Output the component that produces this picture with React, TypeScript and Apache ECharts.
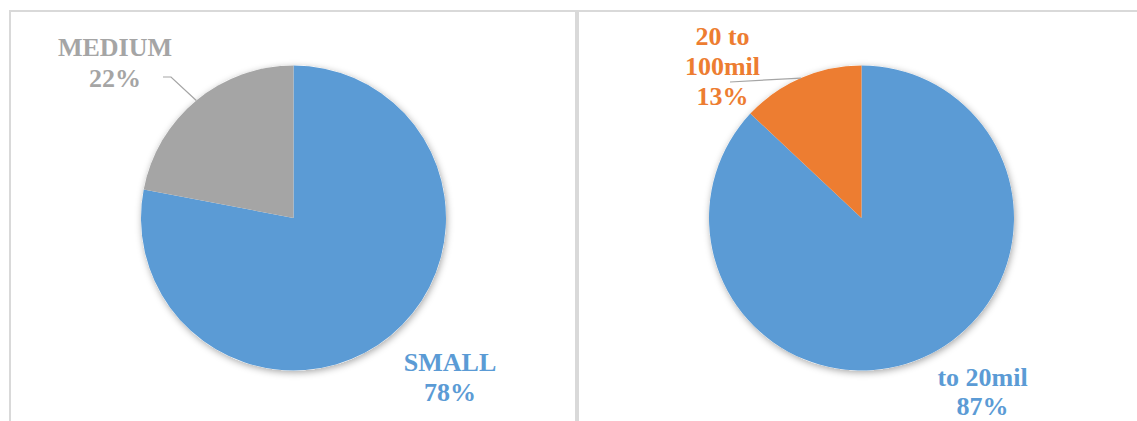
import React, { useEffect, useRef } from "react";
import * as echarts from "echarts";

// Company size shares (left) and turnover bands (right)
const sizeCategories = ["SMALL", "MEDIUM"];
const sizeValues = [78, 22];
const sizeColors = ["#5B9BD5", "#A5A5A5"];

const turnoverCategories = ["to 20mil", "20 to\n100mil"];
const turnoverValues = [87, 13];
const turnoverColors = ["#5B9BD5", "#ED7D31"];

const RADIUS = 152.5;
const LEFT_CENTER: [number, number] = [293.5, 218];
const RIGHT_CENTER: [number, number] = [861.5, 218];

// Where each slice's label block is centred
const sizeLabelPos: [number, number][] = [
  [450, 377],
  [115, 62.5],
];
const turnoverLabelPos: [number, number][] = [
  [982.5, 391.5],
  [722.5, 66],
];

const FONT = "'Liberation Serif', 'Times New Roman', serif";

// Point on the rim at the middle of slice idx (clockwise from 12 o'clock)
function rimMidPoint(center: [number, number], r: number, values: number[], idx: number): [number, number] {
  const total = values.reduce((a, b) => a + b, 0);
  let before = 0;
  for (let i = 0; i < idx; i++) before += values[i];
  const frac = (before + values[idx] / 2) / total;
  const ang = frac * Math.PI * 2;
  return [center[0] + r * Math.sin(ang), center[1] - r * Math.cos(ang)];
}

function sliceLabels(
  names: string[],
  values: number[],
  colors: string[],
  positions: [number, number][],
  lineHeights: number[]
) {
  const total = values.reduce((a, b) => a + b, 0);
  return names.map((n, i) => ({
    type: "text",
    z: 10,
    x: positions[i][0],
    y: positions[i][1],
    style: {
      text: `${n}\n${Math.round((values[i] / total) * 100)}%`,
      fill: colors[i],
      font: `bold 26px ${FONT}`,
      align: "center",
      verticalAlign: "middle",
      lineHeight: lineHeights[i],
    },
  }));
}

function makePie(center: [number, number], names: string[], values: number[], colors: string[]) {
  return {
    type: "pie",
    center,
    radius: RADIUS,
    startAngle: 90,
    clockwise: true,
    z: 2,
    data: names.map((n, i) => ({
      name: n,
      value: values[i],
      itemStyle: { color: colors[i] },
    })),
    label: { show: false },
    labelLine: { show: false },
    emphasis: { disabled: true },
  };
}

function shadowDisc(center: [number, number]) {
  return {
    type: "pie",
    center,
    radius: RADIUS,
    silent: true,
    z: 1,
    data: [{ value: 1, itemStyle: { color: "#ffffff" } }],
    itemStyle: { shadowBlur: 7, shadowColor: "rgba(0,0,0,0.35)", shadowOffsetX: 1, shadowOffsetY: 2 },
    label: { show: false },
    labelLine: { show: false },
    emphasis: { disabled: true },
  };
}

export default function App() {
  const ref = useRef<HTMLDivElement>(null);

  useEffect(() => {
    if (!ref.current) return;
    const chart = echarts.init(ref.current, undefined, { renderer: "svg" });

    const mediumAnchor = rimMidPoint(LEFT_CENTER, RADIUS, sizeValues, 1);
    const midAnchor = rimMidPoint(RIGHT_CENTER, RADIUS, turnoverValues, 1);

    chart.setOption({
      animation: false,
      backgroundColor: "#ffffff",
      graphic: [
        {
          type: "line",
          shape: { x1: 9, y1: 11, x2: 1137, y2: 11 },
          style: { stroke: "#D9D9D9", lineWidth: 2 },
        },
        {
          type: "line",
          shape: { x1: 10, y1: 11, x2: 10, y2: 421 },
          style: { stroke: "#D9D9D9", lineWidth: 2 },
        },
        {
          type: "line",
          shape: { x1: 577, y1: 11, x2: 577, y2: 421 },
          style: { stroke: "#D9D9D9", lineWidth: 4 },
        },
        {
          type: "polyline",
          z: 5,
          shape: { points: [[163, 77], [171, 77], mediumAnchor] },
          style: { stroke: "#A5A5A5", lineWidth: 1.2, fill: null },
        },
        {
          type: "polyline",
          z: 5,
          shape: { points: [[730, 82], midAnchor] },
          style: { stroke: "#A5A5A5", lineWidth: 1.2, fill: null },
        },
        ...sliceLabels(sizeCategories, sizeValues, sizeColors, sizeLabelPos, [30, 31]),
        ...sliceLabels(turnoverCategories, turnoverValues, turnoverColors, turnoverLabelPos, [29, 30]),
      ],
      series: [
        shadowDisc(LEFT_CENTER),
        shadowDisc(RIGHT_CENTER),
        makePie(LEFT_CENTER, sizeCategories, sizeValues, sizeColors),
        makePie(RIGHT_CENTER, turnoverCategories, turnoverValues, turnoverColors),
      ],
    });

    return () => chart.dispose();
  }, []);

  return (
    <div
      ref={ref}
      style={{ position: "fixed", left: 0, top: 0, width: 1137, height: 421 }}
    />
  );
}
